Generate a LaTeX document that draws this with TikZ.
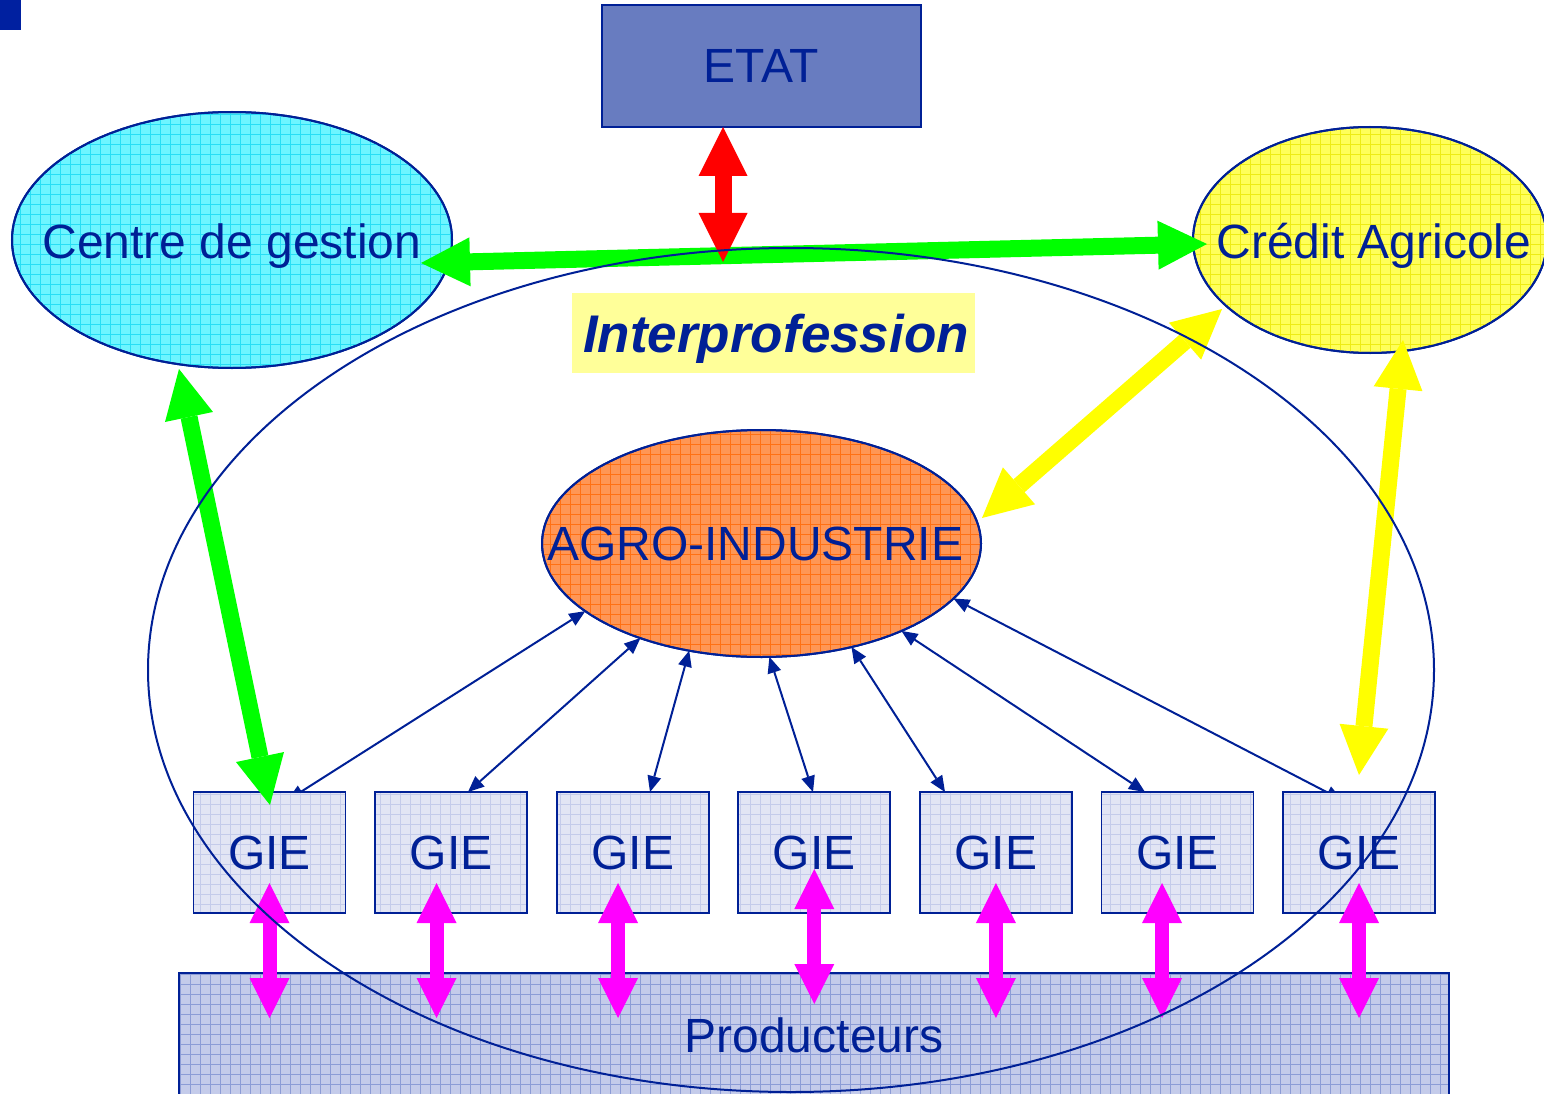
\documentclass[tikz,border=0pt]{standalone}
\usepackage{fontspec}
\setmainfont{Liberation Sans}
\usetikzlibrary{arrows.meta,shapes.geometric,patterns.meta,calc,backgrounds}
\definecolor{dkblue}{RGB}{0,32,150}
\definecolor{cornerblue}{RGB}{0,32,160}
\definecolor{etatfill}{RGB}{104,124,192}
\definecolor{cyanbase}{RGB}{110,245,255}
\definecolor{cyangrid}{RGB}{40,222,245}
\definecolor{yelbase}{RGB}{255,255,90}
\definecolor{yelgrid}{RGB}{238,236,20}
\definecolor{orbase}{RGB}{255,150,85}
\definecolor{orgrid}{RGB}{255,112,20}
\definecolor{giebase}{RGB}{226,229,244}
\definecolor{giegrid}{RGB}{196,203,234}
\definecolor{prodbase}{RGB}{196,203,234}
\definecolor{prodgrid}{RGB}{140,156,214}
\definecolor{labelyellow}{RGB}{255,255,153}
\definecolor{arrgreen}{RGB}{0,255,0}
\definecolor{arrred}{RGB}{255,0,0}
\definecolor{arryellow}{RGB}{255,255,0}
\definecolor{arrmagenta}{RGB}{255,0,255}
\begin{document}
\begin{tikzpicture}[x=1pt,y=-1pt,
  bigtext/.style={font=\fontsize{48}{58}\selectfont, text=dkblue, inner sep=0pt},
  gridfill/.style n args={3}{fill=#1, postaction={pattern={Hatch[angle=0,distance=10pt,line width=0.9pt]}, pattern color=#2}, postaction={draw=dkblue, line width=#3}},
  ellbox/.style={ellipse, draw=dkblue, line width=2pt, inner sep=0pt, outer sep=0pt},
  giebox/.style={rectangle, draw=dkblue, line width=1.8pt, gridfill={giebase}{giegrid}{1.8pt}, minimum width=152pt, minimum height=121pt, inner sep=0pt, outer sep=0pt, font=\fontsize{48}{58}\selectfont, text=dkblue},
  fat/.style={line width=17pt, {Triangle[length=49pt,width=49pt,line width=0pt]}-{Triangle[length=49pt,width=49pt,line width=0pt]}},
  magarrow/.style={arrmagenta, line width=14pt, {Triangle[length=40pt,width=40pt,line width=0pt]}-{Triangle[length=40pt,width=40pt,line width=0pt]}},
  thinarrow/.style={dkblue, line width=2pt, {Triangle[length=16pt,width=14pt,line width=0pt]}-{Triangle[length=16pt,width=14pt,line width=0pt]}},
]
\useasboundingbox (0,0) rectangle (1544,1094);

% corner mark
\fill[cornerblue] (0,0) rectangle (21,30);

% ETAT
\node[rectangle, draw=dkblue, line width=2pt, fill=etatfill, minimum width=319pt, minimum height=122pt, inner sep=0pt, outer sep=0pt, font=\fontsize{48}{58}\selectfont, text=dkblue] (etat) at (761.5,66) {ETAT};

% Centre de gestion
\node[ellbox, gridfill={cyanbase}{cyangrid}{2pt}, minimum width=440pt, minimum height=256pt] (cdg) at (232,240) {};
\node[bigtext, anchor=base] (cdgt) at (232,258) {Centre de gestion};

% Credit Agricole
\node[ellbox, gridfill={yelbase}{yelgrid}{2pt}, minimum width=354pt, minimum height=226pt] (ca) at (1370,240) {};
\node[bigtext, anchor=base] (cat) at (1374,258) {Crédit Agricole};

% Interprofession label
\node[rectangle, fill=labelyellow, minimum width=403pt, minimum height=80pt, inner sep=0pt] (ipbox) at (773.5,333) {};
\node[font=\fontsize{53}{62}\selectfont\bfseries\itshape, text=dkblue, inner sep=0pt, anchor=base] (iptext) at (776,352) {Interprofession};

% Agro-industrie
\node[ellbox, gridfill={orbase}{orgrid}{2pt}, minimum width=439pt, minimum height=227pt] (agro) at (761.5,543.5) {};
\node[bigtext, anchor=base] (agrot) at (755,560) {AGRO-INDUSTRIE};

% GIE boxes
\foreach \i in {1,...,7}
  \node[giebox] (gie\i) at ({269.5+181.6*(\i-1)},852.5) {GIE};

% Producteurs
\node[rectangle, draw=dkblue, line width=2pt, gridfill={prodbase}{prodgrid}{2pt}, minimum width=1270pt, minimum height=140pt, inner sep=0pt, outer sep=0pt] (prod) at (814,1043) {};
\node[bigtext, anchor=base] (prodt) at (814,1052) {Producteurs};

% thin arrows agro <-> GIE (behind boxes)
\begin{pgfonlayer}{background}
\foreach \ang/\i/\dx/\dy in {201/1/18.5/8, 218/2/16.9/0, 236/3/17.3/0, 274/4/-1.3/0, 311/5/-50.9/0, 328/6/-32.5/0, 344/7/-17.1/8}
  \draw[thinarrow] (agro.\ang) -- ($(gie\i.north)+(\dx,\dy)$);
\end{pgfonlayer}

% fat arrows
\coordinate (gL) at (421,263);
\coordinate (gR) at (1207,244);
\draw[fat, arrgreen] (gL) -- (gR);
\coordinate (redEnd) at (723,262);
\draw[fat, arrred] (etat.south -| redEnd) -- (redEnd);
\coordinate (cdgTip) at (179,369);
\coordinate (gieOneTip) at (270,805);
\draw[fat, arrgreen] (cdgTip) -- (gieOneTip);
\coordinate (caTipA) at (1222,309);
\coordinate (agroTip) at (982,518);
\draw[fat, arryellow] (caTipA) -- (agroTip);
\coordinate (caTipB) at (1403,340);
\coordinate (gieSevenTip) at (1359,775);
\draw[fat, arryellow] (caTipB) -- (gieSevenTip);

% magenta arrows GIE <-> Producteurs
\foreach \i/\o/\t/\b in {1/0/-30/105, 2/-14.6/-30/105, 3/-14.7/-30/105, 4/0/-44/91, 5/0/-30/105, 6/-15.5/-30/105, 7/0/-30/105}
  \draw[magarrow] ($(gie\i.south)+(\o,\t)$) -- ($(gie\i.south)+(\o,\b)$);

% Interprofession big ellipse outline
\node[ellbox, minimum width=1286pt, minimum height=844pt] (interp) at (791,670) {};
\end{tikzpicture}
\end{document}
